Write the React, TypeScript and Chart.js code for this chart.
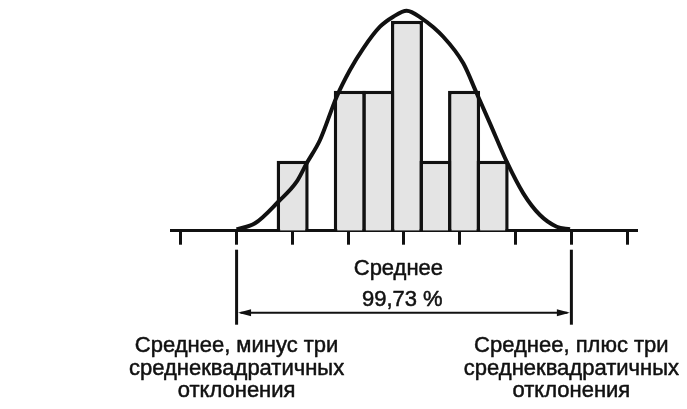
import React, { useEffect, useRef } from "react";
import { Chart, registerables } from "chart.js";

Chart.register(...registerables);

// Histogram bins (x in standard-deviation units, mean = 0) and counts
const BIN_CENTERS = [-1.995, -1.483, -0.971, -0.459, 0.053, 0.565, 1.077, 1.589];
const BIN_COUNTS = [1, 0, 2, 2, 3, 1, 2, 1];

// Normal curve (x in σ, y in count units)
const CURVE_X = [-3.0, -2.67, -2.253, -1.923, -1.744, -1.505, -1.206, -0.968, -0.729, -0.43, -0.192, 0.048, 0.317, 0.704, 1.063, 1.303, 1.541, 1.841, 2.138, 2.437, 2.737, 2.975];
const CURVE_Y = [0.02, 0.106, 0.414, 0.7, 0.963, 1.296, 1.914, 2.296, 2.606, 2.914, 3.057, 3.143, 3.034, 2.771, 2.391, 1.963, 1.534, 0.986, 0.534, 0.224, 0.057, 0.02];

// Axis ticks (σ)
const TICKS = [-4, -3, -2, -1, 0, 1, 2, 3, 4];
const X_MIN = -4.163;
const X_MAX = 4.176;
const Y_MAX = 3.25;

// ±3σ limits and annotation text
const SIGMA_LIMITS = [-3, 3];
const CENTER_LABEL = ["Среднее", "99,73 %"];
const CENTER_LABEL_X = [-0.1, -0.03];
const LEFT_LABEL = ["Среднее, минус три", "среднеквадратичных", "отклонения"];
const RIGHT_LABEL = ["Среднее, плюс три", "среднеквадратичных", "отклонения"];

const INK = "#111111";
const BAR_FILL = "#e4e4e4";
const FONT = '22px "Liberation Sans", Arial, sans-serif';

const annotationPlugin = {
  id: "sigmaAnnotations",
  afterDraw(chart: any) {
    const { ctx } = chart;
    const x = chart.scales.x;
    const base = x.bottom;
    const xl = x.getPixelForValue(SIGMA_LIMITS[0]);
    const xr = x.getPixelForValue(SIGMA_LIMITS[1]);
    ctx.save();
    ctx.strokeStyle = INK;
    ctx.fillStyle = INK;

    // vertical limit lines
    ctx.lineWidth = 3;
    for (const px of [xl, xr]) {
      ctx.beginPath();
      ctx.moveTo(px, base + 5);
      ctx.lineTo(px, base + 80);
      ctx.stroke();
    }

    // double-headed arrow
    const ay = base + 68;
    const hl = 13;
    const hw = 3.5;
    ctx.lineWidth = 2;
    ctx.beginPath();
    ctx.moveTo(xl + 4, ay);
    ctx.lineTo(xr - 4, ay);
    ctx.stroke();
    ctx.beginPath();
    ctx.moveTo(xl + 1.5, ay);
    ctx.lineTo(xl + 1.5 + hl, ay - hw);
    ctx.lineTo(xl + 1.5 + hl, ay + hw);
    ctx.closePath();
    ctx.fill();
    ctx.beginPath();
    ctx.moveTo(xr - 1.5, ay);
    ctx.lineTo(xr - 1.5 - hl, ay - hw);
    ctx.lineTo(xr - 1.5 - hl, ay + hw);
    ctx.closePath();
    ctx.fill();

    // texts (slightly heavier, like the printed original)
    ctx.font = FONT;
    ctx.textAlign = "center";
    ctx.textBaseline = "alphabetic";
    ctx.lineWidth = 0.5;
    ctx.lineJoin = "round";
    const put = (t: string, px: number, py: number) => {
      ctx.fillText(t, px, py);
      ctx.strokeText(t, px, py);
    };
    put(CENTER_LABEL[0], x.getPixelForValue(CENTER_LABEL_X[0]), base + 30.5);
    put(CENTER_LABEL[1], x.getPixelForValue(CENTER_LABEL_X[1]), base + 61.5);
    const lineGap = 22.5;
    LEFT_LABEL.forEach((t, i) => put(t, xl, base + 107.3 + i * lineGap));
    RIGHT_LABEL.forEach((t, i) => put(t, xr, base + 107.3 + i * lineGap));
    ctx.restore();
  },
};

export default function App() {
  const canvasRef = useRef<HTMLCanvasElement | null>(null);

  useEffect(() => {
    const canvas = canvasRef.current;
    if (!canvas) return;
    const chart = new Chart(canvas, {
      type: "bar",
      data: {
        datasets: [
          {
            type: "line",
            data: CURVE_X.map((v, i) => ({ x: v, y: CURVE_Y[i] })),
            borderColor: INK,
            borderWidth: 4,
            pointRadius: 0,
            fill: false,
            cubicInterpolationMode: "monotone",
            order: 0,
          } as any,
          {
            type: "bar",
            data: BIN_CENTERS.map((v, i) => ({ x: v, y: BIN_COUNTS[i] })),
            backgroundColor: BAR_FILL,
            borderColor: INK,
            borderWidth: 3.5,
            borderSkipped: "start",
            categoryPercentage: 1,
            barPercentage: 1.1225,
            order: 1,
          } as any,
        ],
      },
      options: {
        responsive: false,
        maintainAspectRatio: false,
        devicePixelRatio: 1,
        animation: false,
        events: [],
        layout: { padding: { left: 171.7, right: 50, top: 3.2, bottom: 164.3 } },
        plugins: {
          legend: { display: false },
          tooltip: { enabled: false },
          title: { display: false },
        },
        scales: {
          x: {
            type: "linear",
            min: X_MIN,
            max: X_MAX,
            offset: false,
            afterBuildTicks: (scale: any) => {
              scale.ticks = TICKS.map((v) => ({ value: v }));
            },
            ticks: { display: false },
            grid: {
              display: true,
              offset: false,
              drawOnChartArea: false,
              drawTicks: true,
              tickLength: 14,
              tickWidth: 3,
              tickColor: INK,
              color: INK,
            },
            border: { display: true, color: INK, width: 3 },
          },
          y: {
            type: "linear",
            display: false,
            min: 0,
            max: Y_MAX,
          },
        },
      } as any,
      plugins: [annotationPlugin],
    });
    return () => chart.destroy();
  }, []);

  return (
    <div style={{ position: "fixed", left: 0, top: 0, width: 687, height: 409, background: "#ffffff" }}>
      <canvas ref={canvasRef} width={687} height={409} style={{ display: "block", width: 687, height: 409 }} />
    </div>
  );
}
